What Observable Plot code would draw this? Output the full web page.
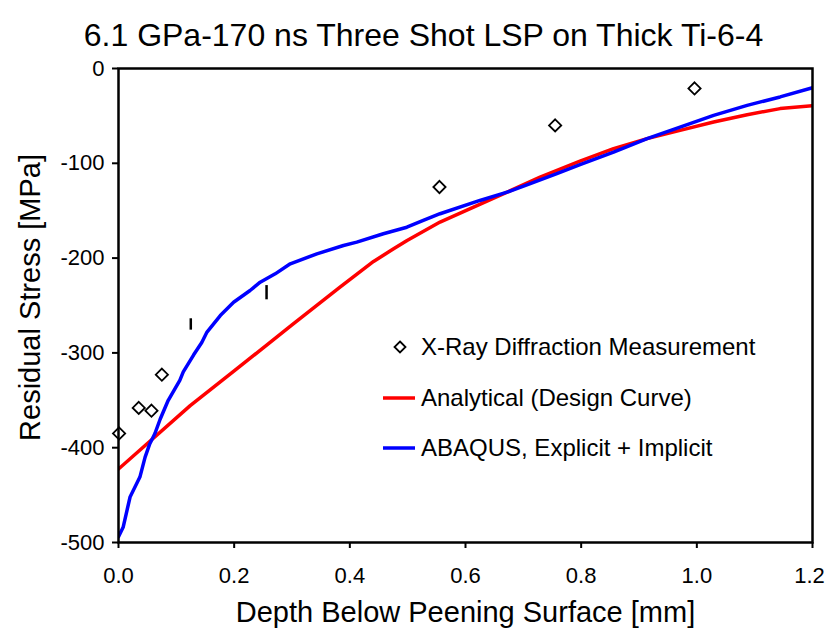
<!DOCTYPE html>
<html><head><meta charset="utf-8">
<script src="https://cdn.jsdelivr.net/npm/d3@7"></script>
<script src="https://cdn.jsdelivr.net/npm/@observablehq/plot@0.6"></script>
<style>
body{margin:0;background:#fff;font-family:"Liberation Sans",Arial,sans-serif;}
#wrap{position:relative;width:825px;height:632px;}
.leg{position:absolute;font-size:24px;color:#000;white-space:nowrap;line-height:24px;}
.sw{position:absolute;}
</style></head><body><div id="wrap"></div>
<script>
const title = "6.1 GPa-170 ns Three Shot LSP on Thick Ti-6-4";
const xLabel = "Depth Below Peening Surface [mm]";
const yLabel = "Residual Stress [MPa]";
const xTicks = [0, 0.2, 0.4, 0.6, 0.8, 1.0, 1.2];
const yTicks = [0, -100, -200, -300, -400, -500];

// X-Ray diffraction measurements
const xrdDepth  = [0.001, 0.035, 0.057, 0.075, 0.555, 0.755, 0.996];
const xrdStress = [-385, -358, -361, -323, -125, -60, -21];

// small vertical marks (measurement bars)
const barDepth = [0.125, 0.256];
const barLo    = [-276, -244];
const barHi    = [-264, -229];

// Analytical (design curve)
const anaDepth  = [0, 0.124, 0.2, 0.3, 0.383, 0.441, 0.475, 0.499, 0.556, 0.614, 0.672, 0.729, 0.798, 0.856, 0.914, 0.971, 1.029, 1.087, 1.144, 1.2];
const anaStress = [-422.5, -355.6, -319, -270.5, -230.7, -203.5, -190.5, -181.4, -162, -146.2, -130.4, -114.6, -97.7, -84.6, -74, -65.3, -56.5, -48.7, -42.3, -39.3];

// ABAQUS, Explicit + Implicit
const abqDepth  = [0, 0.008, 0.02, 0.037, 0.046, 0.054, 0.063, 0.072, 0.086, 0.106, 0.112, 0.13, 0.144, 0.153, 0.176, 0.199, 0.2275, 0.245, 0.271, 0.297, 0.343, 0.389, 0.412, 0.458, 0.4986, 0.527, 0.556, 0.625, 0.672, 0.712, 0.758, 0.798, 0.856, 0.914, 0.971, 1.029, 1.087, 1.144, 1.205];
const abqStress = [-494, -484, -452, -431, -410, -396, -385, -370, -350, -329, -320, -302, -289, -278, -260.6, -246.6, -234.2, -225.4, -216.6, -206, -195.5, -186.7, -183.2, -174.3, -167.4, -160.3, -153.2, -139.2, -130.4, -121.5, -111, -101.5, -88.2, -74, -61.8, -49.4, -38.9, -30, -19.5];

const legendItems = ["X-Ray Diffraction Measurement", "Analytical (Design Curve)", "ABAQUS, Explicit + Implicit"];
const colors = {ana: "#ff0000", abq: "#0000ff"};

const xrd = xrdDepth.map((d, i) => ({d, s: xrdStress[i]}));
const bars = barDepth.map((d, i) => ({d, lo: barLo[i], hi: barHi[i]}));
const ana = anaDepth.map((d, i) => ({d, s: anaStress[i]}));
const abq = abqDepth.map((d, i) => ({d, s: abqStress[i]}));

const lastTick = xTicks[xTicks.length - 1];
const chart = Plot.plot({
  width: 825, height: 632,
  marginTop: 68, marginLeft: 118, marginRight: 13, marginBottom: 90,
  style: {fontFamily: "'Liberation Sans', Arial, sans-serif", fontSize: "22px", color: "#000", background: "#fff"},
  x: {domain: [0, 1.2]},
  y: {domain: [-500, 0]},
  marks: [
    Plot.axisX({ticks: xTicks, tickSize: 6, tickFormat: () => "", strokeWidth: 2, label: null}),
    Plot.axisX({ticks: xTicks.slice(0, -1), tickFormat: d => d.toFixed(1), tickSize: 0, tickPadding: 25, fontSize: 22, label: null}),
    Plot.axisX({ticks: [lastTick], tickFormat: d => d.toFixed(1), tickSize: 0, tickPadding: 25, fontSize: 22, label: null, dx: -3}),
    Plot.axisY({ticks: yTicks, tickFormat: d => String(d), tickSize: 6, tickPadding: 8, fontSize: 22, label: null, strokeWidth: 2}),
    Plot.line(ana, {x: "d", y: "s", stroke: colors.ana, strokeWidth: 3.5, clip: true}),
    Plot.line(abq, {x: "d", y: "s", stroke: colors.abq, strokeWidth: 3.5, clip: true}),
    Plot.dot(xrd, {x: "d", y: "s", symbol: "diamond2", r: 5.5, stroke: "#000", fill: "#fff", strokeWidth: 1.8}),
    Plot.ruleX(bars, {x: "d", y1: "lo", y2: "hi", stroke: "#000", strokeWidth: 2.5}),
    Plot.frame({stroke: "#000", strokeWidth: 2.5}),
    Plot.text([title], {frameAnchor: "top", lineAnchor: "middle", dx: -42, dy: -33, fontSize: 32}),
    Plot.text([xLabel], {frameAnchor: "bottom", lineAnchor: "middle", dy: 70, fontSize: 29}),
    Plot.text([yLabel], {frameAnchor: "left", textAnchor: "middle", lineAnchor: "middle", rotate: -90, dx: -88, dy: -8, fontSize: 29})
  ]
});
const wrap = document.getElementById("wrap");
wrap.appendChild(chart);

// legend overlay
const rows = [
  {text: legendItems[0], kind: "dot", cy: 347},
  {text: legendItems[1], kind: "line", color: colors.ana, cy: 398},
  {text: legendItems[2], kind: "line", color: colors.abq, cy: 448}
];
rows.forEach(r => {
  const sw = document.createElementNS("http://www.w3.org/2000/svg", "svg");
  sw.setAttribute("class", "sw");
  sw.setAttribute("width", 40); sw.setAttribute("height", 20);
  sw.style.left = "380px"; sw.style.top = (r.cy - 10) + "px";
  if (r.kind === "dot") {
    sw.innerHTML = '<path d="M20,4.5L25.5,10L20,15.5L14.5,10Z" fill="#fff" stroke="#000" stroke-width="1.8"/>';
  } else {
    sw.innerHTML = `<line x1="3" x2="35" y1="10" y2="10" stroke="${r.color}" stroke-width="3.5"/>`;
  }
  wrap.appendChild(sw);
  const t = document.createElement("div");
  t.className = "leg";
  t.textContent = r.text;
  t.style.left = "421px"; t.style.top = (r.cy - 12) + "px";
  wrap.appendChild(t);
});
</script>
</body></html>
